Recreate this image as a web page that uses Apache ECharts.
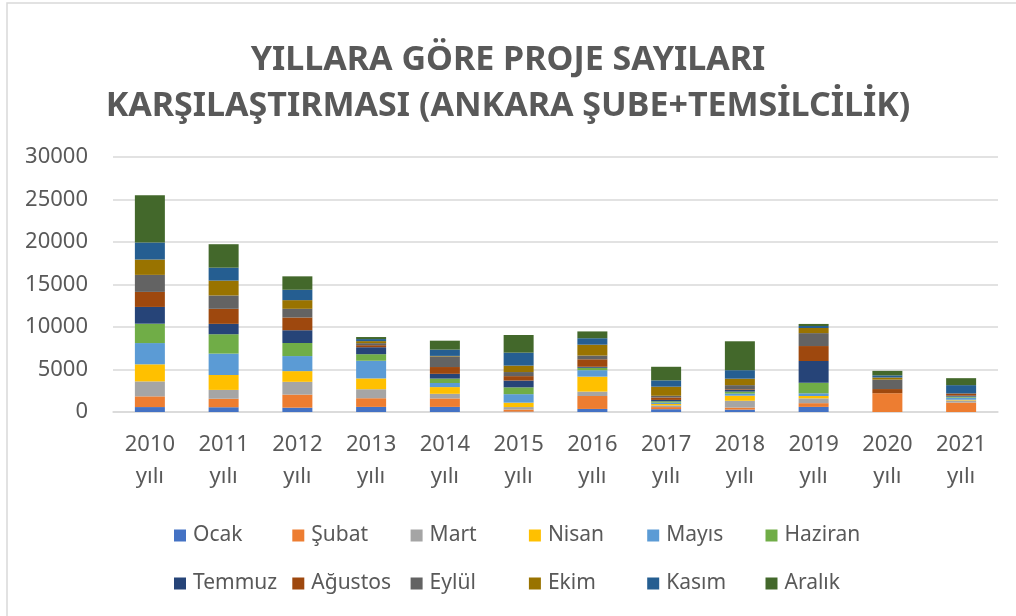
<!DOCTYPE html>
<html>
<head>
<meta charset="utf-8">
<script src="https://cdn.jsdelivr.net/npm/echarts@6/dist/echarts.min.js"></script>
<style>
  html, body { margin: 0; padding: 0; background: #fff; }
  #chart { width: 1016px; height: 616px; }
</style>
</head>
<body>
<div id="chart"></div>
<script>
// yıllar
const years = ["2010 yılı", "2011 yılı", "2012 yılı", "2013 yılı", "2014 yılı", "2015 yılı",
  "2016 yılı", "2017 yılı", "2018 yılı", "2019 yılı", "2020 yılı", "2021 yılı"];
const months = ["Ocak", "Şubat", "Mart", "Nisan", "Mayıs", "Haziran",
  "Temmuz", "Ağustos", "Eylül", "Ekim", "Kasım", "Aralık"];
const yTicks = [0, 5000, 10000, 15000, 20000, 25000, 30000];

// aylık proje sayıları (2010 -> 2021)
const ocak    = [580, 560, 510, 600, 600, 40, 360, 330, 280, 600, 0, 0];
const subat   = [1260, 1000, 1540, 1020, 1000, 250, 1520, 250, 240, 440, 2210, 1110];
const mart    = [1760, 1040, 1500, 1060, 540, 290, 520, 200, 800, 560, 0, 250];
const nisan   = [2010, 1750, 1260, 1270, 790, 520, 1760, 160, 600, 280, 0, 80];
const mayis   = [2500, 2520, 1770, 2080, 480, 1000, 760, 160, 240, 320, 0, 250];
const haziran = [2280, 2280, 1540, 770, 520, 800, 280, 160, 240, 1240, 0, 120];
const temmuz  = [1970, 1220, 1500, 820, 560, 800, 120, 160, 200, 2560, 0, 120];
const agustos = [1770, 1770, 1500, 240, 800, 520, 880, 290, 80, 1760, 490, 250];
const eylul   = [2000, 1570, 1020, 240, 1250, 480, 440, 200, 480, 1520, 1110, 0];
const ekim    = [1810, 1750, 1020, 240, 60, 760, 1280, 1070, 760, 600, 250, 0];
const kasim   = [2000, 1520, 1220, 240, 740, 1520, 760, 740, 1000, 240, 250, 980];
const aralik  = [5560, 2760, 1580, 240, 1050, 2080, 800, 1600, 3400, 240, 530, 820];

const monthValues = [ocak, subat, mart, nisan, mayis, haziran, temmuz, agustos, eylul, ekim, kasim, aralik];
const colors = ["#4472C4", "#ED7D31", "#A5A5A5", "#FFC000", "#5B9BD5", "#70AD47",
  "#264478", "#9E480E", "#636363", "#997300", "#255E91", "#43682B"];

const textColor = "#595959";
const fontName = "'Noto Sans', sans-serif";

const chartInstance = echarts.init(document.getElementById("chart"));

// Excel gibi sütun hizalı lejant: her ay için ayrı lejant
const legends = months.map((m, i) => {
  return {
    data: [m],
    left: 174 + (i % 6) * 118.3,
    top: i < 6 ? 525 : 573,
    padding: 0,
    itemWidth: 12,
    itemHeight: 12,
    itemGap: 0,
    icon: "rect",
    selectedMode: false,
    textStyle: { color: textColor, fontSize: 21, fontFamily: fontName, padding: [0, 0, 0, 2] }
  };
});

const seriesList = months.map((m, i) => {
  return {
    name: m,
    type: "bar",
    stack: "toplam",
    barWidth: 30,
    data: monthValues[i],
    itemStyle: { color: colors[i] },
    animation: false
  };
});

const option = {
  color: colors,
  animation: false,
  title: {
    text: "YILLARA GÖRE PROJE SAYILARI\nKARŞILAŞTIRMASI (ANKARA ŞUBE+TEMSİLCİLİK)",
    left: "center",
    top: 32,
    textStyle: {
      color: textColor,
      fontSize: 34,
      fontWeight: "bold",
      fontFamily: fontName,
      lineHeight: 46
    }
  },
  graphic: [
    {
      type: "rect",
      shape: { x: 7, y: 3, width: 1040, height: 640 },
      style: { fill: "none", stroke: "#D9D9D9", lineWidth: 1.5 },
      silent: true
    }
  ],
  legend: legends,
  grid: { left: 113, right: 18, top: 157, bottom: 204 },
  xAxis: {
    type: "category",
    data: years,
    axisLine: { lineStyle: { color: "#D9D9D9", width: 1.5 } },
    axisTick: { show: false },
    axisLabel: {
      color: textColor,
      fontSize: 22,
      fontFamily: fontName,
      lineHeight: 32,
      margin: 17,
      formatter: (v) => v.replace(" ", "\n")
    }
  },
  yAxis: {
    type: "value",
    min: yTicks[0],
    max: yTicks[yTicks.length - 1],
    interval: yTicks[1] - yTicks[0],
    axisLine: { show: false },
    axisTick: { show: false },
    axisLabel: {
      color: textColor,
      fontSize: 22,
      fontFamily: fontName,
      margin: 25,
      formatter: (v) => String(v)
    },
    splitLine: { lineStyle: { color: "#D9D9D9", width: 1.5 } }
  },
  series: seriesList
};

chartInstance.setOption(option);
</script>
</body>
</html>
